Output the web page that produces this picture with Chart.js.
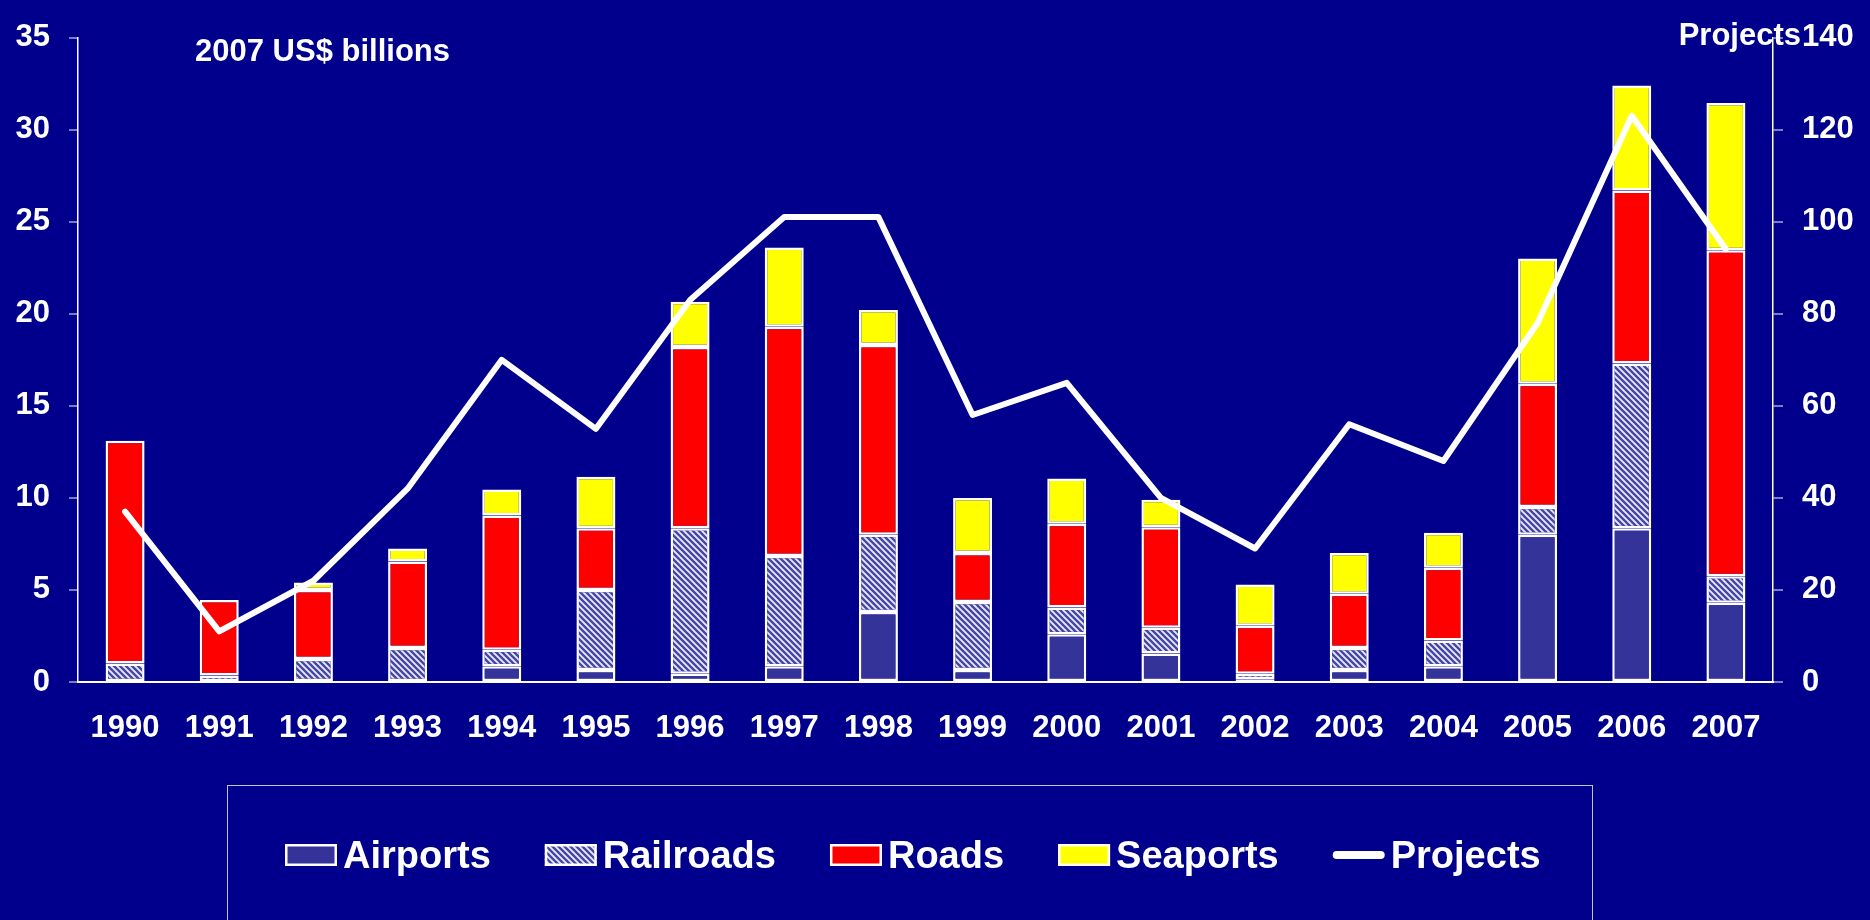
<!DOCTYPE html>
<html>
<head>
<meta charset="utf-8">
<title>Infrastructure investment by sector, 1990-2007</title>
<script src="https://cdn.jsdelivr.net/npm/chart.js@4.4.1/dist/chart.umd.min.js"></script>
<style>
  html, body { margin: 0; padding: 0; background: #00008C; }
  canvas { display: block; }
</style>
</head>
<body>
<canvas id="chart" width="1870" height="920"></canvas>
<script>
// Investment by sector, 2007 US$ billions
const years = ['1990','1991','1992','1993','1994','1995','1996','1997','1998','1999',
               '2000','2001','2002','2003','2004','2005','2006','2007'];
const airports  = [0, 0, 0, 0, 0.85, 0.65, 0.45, 0.85, 3.8, 0.65, 2.6, 1.55, 0.15, 0.65, 0.85, 8.0, 8.35, 4.3];
const railroads = [1.0, 0.35, 1.25, 1.85, 0.9, 4.35, 7.9, 6.0, 4.2, 3.7, 1.45, 1.4, 0.3, 1.2, 1.4, 1.5, 8.95, 1.45];
const roads     = [12.1, 4.1, 3.75, 4.7, 7.3, 3.35, 9.85, 12.45, 10.3, 2.65, 4.55, 5.45, 2.6, 2.95, 3.95, 6.7, 9.4, 17.7];
const seaports  = [0, 0, 0.4, 0.7, 1.4, 2.8, 2.45, 4.3, 1.9, 3.0, 2.45, 1.5, 2.25, 2.2, 1.9, 6.8, 5.7, 8.0];
// Number of projects (right axis)
const projects  = [37, 11, 22, 42, 70, 55, 83, 101, 101, 58, 65, 40, 29, 56, 48, 78, 123, 94];

const leftTicks  = { min: 0, max: 35, step: 5 };
const rightTicks = { min: 0, max: 140, step: 20 };

const BG = '#00008C';
const FONT = '"Liberation Sans", Arial, Helvetica, sans-serif';
const AXIS_LINE = '#ffffff';
const TICK_MARK = '#7c7cc4';

const canvas = document.getElementById('chart');
const ctx = canvas.getContext('2d');

// Diagonal hatch used for the railroads series
function makeHatch() {
  const s = 6;
  const tile = document.createElement('canvas');
  tile.width = s; tile.height = s;
  const g = tile.getContext('2d');
  g.fillStyle = '#eaeaf8';
  g.fillRect(0, 0, s, s);
  g.strokeStyle = '#4646a6';
  g.lineWidth = 2.4;
  g.beginPath();
  for (let k = -1; k <= 1; k++) {
    g.moveTo(k * s - 1, -1);
    g.lineTo(k * s + s + 1, s + 1);
  }
  g.stroke();
  return ctx.createPattern(tile, 'repeat');
}
const hatch = makeHatch();

const barStyle = {
  type: 'bar',
  borderColor: '#ffffff',
  borderWidth: 2.5,
  borderSkipped: false,
  barPercentage: 0.414,
  categoryPercentage: 1.0,
  yAxisID: 'y',
  order: 1
};

const tickFont = { family: FONT, size: 31, weight: 'bold' };

// Page background
const backgroundPlugin = {
  id: 'pageBackground',
  beforeDraw(chart) {
    const c = chart.ctx;
    c.save();
    c.fillStyle = BG;
    c.fillRect(0, 0, chart.width, chart.height);
    c.restore();
  }
};

// Axis captions and the boxed legend below the plot
const captionsAndLegend = {
  id: 'captionsAndLegend',
  afterDraw(chart) {
    const c = chart.ctx;
    c.save();
    c.fillStyle = '#ffffff';
    c.font = `bold 31px ${FONT}`;
    c.textBaseline = 'alphabetic';
    c.textAlign = 'left';
    c.fillText('2007 US$ billions', 195, 61);
    c.textAlign = 'right';
    c.fillText('Projects', 1801, 44.5);

    // legend frame
    c.strokeStyle = '#c4c4d8';
    c.lineWidth = 1;
    c.strokeRect(227.5, 785.5, 1365, 200);

    // legend entries
    c.font = `bold 38px ${FONT}`;
    c.textAlign = 'left';
    const sw = 52, sh = 22, gapText = 6, gapItem = 54;
    const items = chart.data.datasets.map(ds => ({
      label: ds.label,
      type: ds.type,
      fill: ds.backgroundColor,
      w: c.measureText(ds.label).width
    }));
    let total = 0;
    items.forEach((it, i) => { total += sw + gapText + it.w + (i < items.length - 1 ? gapItem : 0); });
    let x = Math.round(913 - total / 2);
    const cy = 855;
    items.forEach(it => {
      if (it.type === 'line') {
        c.strokeStyle = '#ffffff';
        c.lineWidth = 8;
        c.lineCap = 'round';
        c.beginPath();
        c.moveTo(x + 4, cy);
        c.lineTo(x + sw - 4, cy);
        c.stroke();
      } else {
        c.fillStyle = it.fill;
        c.fillRect(x, cy - sh / 2, sw, sh);
        c.strokeStyle = '#ffffff';
        c.lineWidth = 2.5;
        c.strokeRect(x + 1.25, cy - sh / 2 + 1.25, sw - 2.5, sh - 2.5);
      }
      c.fillStyle = '#ffffff';
      c.fillText(it.label, x + sw + gapText, 868);
      x += sw + gapText + it.w + gapItem;
    });
    c.restore();
  }
};

new Chart(ctx, {
  type: 'bar',
  data: {
    labels: years,
    datasets: [
      { ...barStyle, label: 'Airports',  data: airports,  backgroundColor: '#333399' },
      { ...barStyle, label: 'Railroads', data: railroads, backgroundColor: hatch },
      { ...barStyle, label: 'Roads',     data: roads,     backgroundColor: '#FF0000' },
      { ...barStyle, label: 'Seaports',  data: seaports,  backgroundColor: '#FFFF00' },
      {
        type: 'line',
        label: 'Projects',
        data: projects,
        yAxisID: 'y1',
        borderColor: '#ffffff',
        backgroundColor: '#ffffff',
        borderWidth: 6,
        pointRadius: 0,
        pointHoverRadius: 0,
        tension: 0,
        borderJoinStyle: 'round',
        borderCapStyle: 'round',
        fill: false,
        order: 0
      }
    ]
  },
  options: {
    responsive: false,
    animation: false,
    devicePixelRatio: 1,
    layout: { padding: { top: 23, left: 0, right: 0, bottom: 0 } },
    plugins: {
      legend: { display: false },
      tooltip: { enabled: false }
    },
    scales: {
      x: {
        stacked: true,
        offset: true,
        grid: { display: false, drawTicks: false },
        border: { display: true, color: AXIS_LINE, width: 2 },
        ticks: { color: '#ffffff', font: tickFont, padding: 28, maxRotation: 0, autoSkip: false },
        afterFit(scale) { scale.height = 238; }
      },
      y: {
        stacked: true,
        position: 'left',
        min: leftTicks.min,
        max: leftTicks.max,
        ticks: { stepSize: leftTicks.step, color: '#ffffff', font: tickFont, padding: 19 },
        grid: { display: true, drawOnChartArea: false, drawTicks: true, tickLength: 9, color: TICK_MARK, lineWidth: 2 },
        border: { display: true, color: AXIS_LINE, width: 1.5 },
        afterFit(scale) { scale.width = 78; }
      },
      y1: {
        stacked: false,
        position: 'right',
        min: rightTicks.min,
        max: rightTicks.max,
        ticks: { stepSize: rightTicks.step, color: '#ffffff', font: tickFont, padding: 19 },
        grid: { display: true, drawOnChartArea: false, drawTicks: true, tickLength: 10, color: TICK_MARK, lineWidth: 2 },
        border: { display: true, color: AXIS_LINE, width: 1.5 },
        afterFit(scale) { scale.width = 97; }
      }
    }
  },
  plugins: [backgroundPlugin, captionsAndLegend]
});
</script>
</body>
</html>
